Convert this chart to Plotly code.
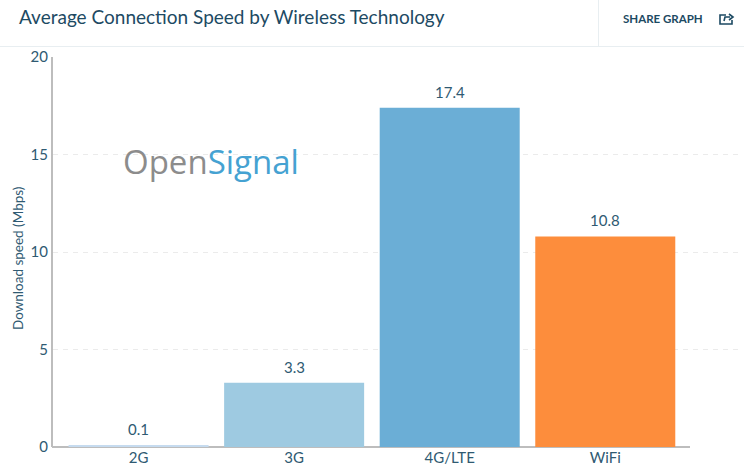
import plotly.graph_objects as go

# values
technologies = ["2G", "3G", "4G/LTE", "WiFi"]
speeds = [0.1, 3.3, 17.4, 10.8]
speed_labels = ["0.1", "3.3", "17.4", "10.8"]
bar_colors = ["#c6dbef", "#9ecae1", "#6baed6", "#fd8d3c"]
y_ticks = [0, 5, 10, 15, 20]

W, H = 744, 469
L, R, T, B = 53, 4, 57, 22
TEXT = "#1d4a63"
SOFT = "#2f5a72"
RULE = "#e8eef1"
FONT = "Lato"


def px_x(x):
    return (x - L) / (W - L - R)


def px_y(y):
    return 1 - (y - T) / (H - T - B)


fig = go.Figure()
fig.add_trace(go.Bar(
    x=technologies,
    y=speeds,
    marker=dict(color=bar_colors, line_width=0),
    width=0.9,
))

# value labels sit further above the bars than textposition allows
for tech, speed, label in zip(technologies, speeds, speed_labels):
    fig.add_annotation(x=tech, y=speed, text=label, showarrow=False, yanchor="bottom",
                       yshift=5, font=dict(family=FONT, size=15, color=SOFT))

fig.update_layout(
    width=W,
    height=H,
    autosize=False,
    paper_bgcolor="white",
    plot_bgcolor="white",
    showlegend=False,
    font=dict(family=FONT, color=TEXT),
    margin=dict(l=L, r=R, t=T, b=B, pad=0),
    title=dict(
        text="Average Connection Speed by Wireless Technology",
        x=19 / W, xanchor="left", y=1 - 17 / H, yanchor="middle",
        font=dict(family=FONT, size=19, color=TEXT),
    ),
)
fig.update_xaxes(
    type="category",
    range=[-0.55, 3.866],
    automargin=False,
    showgrid=False,
    showline=False,
    zeroline=False,
    ticks="",
    tickfont=dict(family=FONT, size=15, color=SOFT),
)
fig.update_yaxes(
    range=[0, 20],
    tickvals=y_ticks,
    automargin=False,
    showgrid=True, gridcolor="#ebebeb", griddash="5px,5px", gridwidth=1,
    zeroline=False,
    showline=True, linecolor="#bdbdbd", linewidth=2,
    ticks="",
    tickfont=dict(family=FONT, size=15, color=SOFT),
)

# axis title as an annotation so it can sit where the original has it
fig.add_annotation(xref="paper", yref="paper", x=px_x(18), y=px_y(259),
                   text="Download speed (Mbps)", textangle=-90, showarrow=False,
                   xanchor="center", yanchor="middle",
                   font=dict(family=FONT, size=13.5, color=SOFT))

# solid baseline stops short of the dashed gridline
fig.add_shape(type="line", xref="paper", yref="paper", x0=px_x(52), x1=px_x(690),
              y0=px_y(447), y1=px_y(447), line=dict(color="#bdbdbd", width=2), layer="below")

# header rules and the share link
fig.add_shape(type="line", xref="paper", yref="paper", x0=px_x(0), x1=px_x(W),
              y0=px_y(46.5), y1=px_y(46.5), line=dict(color=RULE, width=1))
fig.add_shape(type="line", xref="paper", yref="paper", x0=px_x(598.5), x1=px_x(598.5),
              y0=px_y(0), y1=px_y(46), line=dict(color=RULE, width=1))
fig.add_annotation(xref="paper", yref="paper", x=px_x(705), y=px_y(18.5),
                   text="<b>SHARE GRAPH</b>", showarrow=False, xanchor="right", yanchor="middle",
                   font=dict(family=FONT, size=11.5, color=TEXT))

# share icon: open box with an arrow leaving it
icon_box = [(726, 15), (720, 15), (720, 24), (732, 24), (732, 20)]
icon_arrow = [(724, 21), (725, 17), (730, 17)]
icon_head = [(729, 14), (733, 17), (729, 20)]
for points in (icon_box, icon_arrow, icon_head):
    path = "M" + " L".join(f"{px_x(x)},{px_y(y)}" for x, y in points)
    fig.add_shape(type="path", xref="paper", yref="paper", path=path,
                  line=dict(color=TEXT, width=1.6))

# logo
fig.add_annotation(xref="paper", yref="paper", x=px_x(120.5), y=px_y(162),
                   text="<span style='color:#8c8c8c'>Open</span><span style='color:#45a2d2'>Signal</span>",
                   showarrow=False, xanchor="left", yanchor="middle",
                   font=dict(family="Open Sans", size=33))

fig.write_html("out.html", config=dict(displayModeBar=False),
               post_script="document.body.style.margin='0';document.body.style.overflow='hidden';")
